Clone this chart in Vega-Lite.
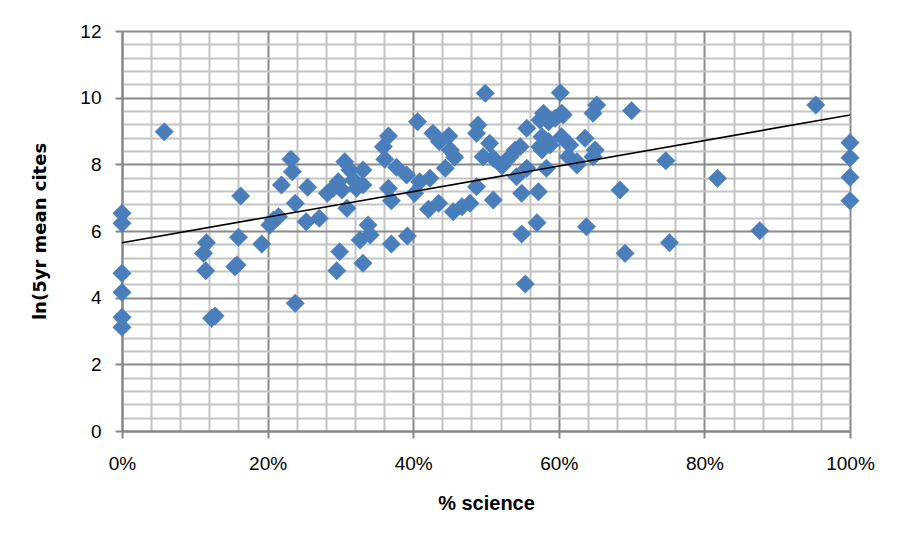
{
  "$schema": "https://vega.github.io/schema/vega-lite/v6.json",
  "width": 728,
  "height": 400,
  "autosize": {"type": "none"},
  "padding": {"left": 122, "top": 31, "right": 54, "bottom": 117},
  "background": "white",
  "config": {
    "view": {"stroke": null},
    "axis": {
      "labelFont": "Liberation Sans Narrow, Liberation Sans, sans-serif",
      "labelFontSize": 19,
      "labelColor": "#000000",
      "titleColor": "#000000",
      "domainColor": "#868686",
      "domainWidth": 2,
      "tickWidth": 2,
      "tickSize": 7,
      "gridWidth": 2,
      "tickCount": 200
    }
  },
  "layer": [
    {
      "data": {
        "values": [
          {"sci": 0.058, "cites": 8.98}, {"sci": 0, "cites": 6.53}, {"sci": 0, "cites": 6.23}, {"sci": 0, "cites": 4.73},
          {"sci": 0, "cites": 4.16}, {"sci": 0, "cites": 3.41}, {"sci": 0, "cites": 3.11}, {"sci": 0.116, "cites": 5.65},
          {"sci": 0.112, "cites": 5.33}, {"sci": 0.115, "cites": 4.81}, {"sci": 0.123, "cites": 3.38}, {"sci": 0.128, "cites": 3.45},
          {"sci": 0.163, "cites": 7.05}, {"sci": 0.16, "cites": 5.81}, {"sci": 0.155, "cites": 4.93}, {"sci": 0.158, "cites": 4.98},
          {"sci": 0.192, "cites": 5.61}, {"sci": 0.203, "cites": 6.18}, {"sci": 0.208, "cites": 6.33}, {"sci": 0.215, "cites": 6.43},
          {"sci": 0.219, "cites": 7.38}, {"sci": 0.232, "cites": 8.15}, {"sci": 0.234, "cites": 7.78}, {"sci": 0.238, "cites": 6.83},
          {"sci": 0.238, "cites": 3.83}, {"sci": 0.255, "cites": 7.31}, {"sci": 0.253, "cites": 6.28}, {"sci": 0.271, "cites": 6.38},
          {"sci": 0.282, "cites": 7.13}, {"sci": 0.29, "cites": 7.28}, {"sci": 0.297, "cites": 7.48}, {"sci": 0.306, "cites": 8.08},
          {"sci": 0.313, "cites": 7.83}, {"sci": 0.302, "cites": 7.23}, {"sci": 0.309, "cites": 6.68}, {"sci": 0.318, "cites": 7.53},
          {"sci": 0.322, "cites": 7.28}, {"sci": 0.331, "cites": 7.83}, {"sci": 0.331, "cites": 7.38}, {"sci": 0.299, "cites": 5.38},
          {"sci": 0.295, "cites": 4.81}, {"sci": 0.327, "cites": 5.73}, {"sci": 0.338, "cites": 6.18}, {"sci": 0.341, "cites": 5.88},
          {"sci": 0.331, "cites": 5.03}, {"sci": 0.359, "cites": 8.53}, {"sci": 0.366, "cites": 8.85}, {"sci": 0.361, "cites": 8.15},
          {"sci": 0.366, "cites": 7.28}, {"sci": 0.37, "cites": 6.91}, {"sci": 0.37, "cites": 5.61}, {"sci": 0.377, "cites": 7.91},
          {"sci": 0.391, "cites": 7.68}, {"sci": 0.392, "cites": 5.85}, {"sci": 0.402, "cites": 7.13}, {"sci": 0.406, "cites": 9.28},
          {"sci": 0.409, "cites": 7.48}, {"sci": 0.423, "cites": 7.58}, {"sci": 0.421, "cites": 6.65}, {"sci": 0.427, "cites": 8.93},
          {"sci": 0.436, "cites": 8.68}, {"sci": 0.435, "cites": 6.83}, {"sci": 0.449, "cites": 8.85}, {"sci": 0.451, "cites": 8.43},
          {"sci": 0.457, "cites": 8.21}, {"sci": 0.444, "cites": 7.88}, {"sci": 0.455, "cites": 6.58}, {"sci": 0.467, "cites": 6.73},
          {"sci": 0.478, "cites": 6.83}, {"sci": 0.487, "cites": 8.93}, {"sci": 0.487, "cites": 7.33}, {"sci": 0.499, "cites": 10.13},
          {"sci": 0.489, "cites": 9.18}, {"sci": 0.505, "cites": 8.63}, {"sci": 0.496, "cites": 8.23}, {"sci": 0.51, "cites": 8.18},
          {"sci": 0.522, "cites": 7.95}, {"sci": 0.51, "cites": 6.93}, {"sci": 0.54, "cites": 8.43}, {"sci": 0.547, "cites": 8.53},
          {"sci": 0.533, "cites": 8.23}, {"sci": 0.556, "cites": 7.88}, {"sci": 0.542, "cites": 7.63}, {"sci": 0.549, "cites": 7.13},
          {"sci": 0.572, "cites": 7.18}, {"sci": 0.549, "cites": 5.91}, {"sci": 0.57, "cites": 6.25}, {"sci": 0.554, "cites": 4.41},
          {"sci": 0.556, "cites": 9.08}, {"sci": 0.574, "cites": 9.33}, {"sci": 0.579, "cites": 9.53}, {"sci": 0.586, "cites": 9.28},
          {"sci": 0.602, "cites": 10.15}, {"sci": 0.604, "cites": 9.53}, {"sci": 0.595, "cites": 9.38}, {"sci": 0.606, "cites": 9.48},
          {"sci": 0.577, "cites": 8.83}, {"sci": 0.586, "cites": 8.68}, {"sci": 0.577, "cites": 8.43}, {"sci": 0.588, "cites": 8.58},
          {"sci": 0.574, "cites": 8.53}, {"sci": 0.583, "cites": 7.88}, {"sci": 0.604, "cites": 8.83}, {"sci": 0.615, "cites": 8.58},
          {"sci": 0.613, "cites": 8.23}, {"sci": 0.625, "cites": 7.98}, {"sci": 0.625, "cites": 8.08}, {"sci": 0.636, "cites": 8.78},
          {"sci": 0.65, "cites": 8.43}, {"sci": 0.647, "cites": 8.23}, {"sci": 0.652, "cites": 9.78}, {"sci": 0.647, "cites": 9.53},
          {"sci": 0.7, "cites": 9.61}, {"sci": 0.684, "cites": 7.23}, {"sci": 0.638, "cites": 6.13}, {"sci": 0.691, "cites": 5.33},
          {"sci": 0.747, "cites": 8.11}, {"sci": 0.752, "cites": 5.65}, {"sci": 0.818, "cites": 7.58}, {"sci": 0.876, "cites": 6.01},
          {"sci": 0.953, "cites": 9.78}, {"sci": 1, "cites": 8.65}, {"sci": 1, "cites": 8.2}, {"sci": 1, "cites": 7.61},
          {"sci": 1, "cites": 6.91}
        ]
      },
      "mark": {"type": "point", "shape": "diamond", "filled": true, "size": 340, "color": "#4A7EBB", "opacity": 1, "stroke": "#4A7EBB", "strokeWidth": 0.5},
      "encoding": {
        "x": {
          "field": "sci", "type": "quantitative",
          "scale": {"domain": [0, 1], "nice": false, "zero": true},
          "axis": {
            "title": "% science",
            "titleFont": "Liberation Sans Narrow, Liberation Sans, sans-serif",
            "titleFontSize": 20,
            "titleFontWeight": "bold",
            "titlePadding": 20,
            "format": ".0%",
            "tickCount": 200,
            "values": [0, 0.04, 0.08, 0.12, 0.16, 0.2, 0.24, 0.28, 0.32, 0.36, 0.4, 0.44, 0.48, 0.52, 0.56, 0.6, 0.64, 0.68, 0.72, 0.76, 0.8, 0.84, 0.88, 0.92, 0.96, 1],
            "labelExpr": "round(datum.value * 100) % 20 === 0 ? datum.label : ''",
            "labelPadding": 16,
            "labelFlush": false,
            "labelOverlap": false,
            "gridColor": {"condition": {"test": "round(datum.value * 100) % 20 === 0", "value": "#8a8a8a"}, "value": "#c4c4c4"},
            "tickColor": {"condition": {"test": "round(datum.value * 100) % 20 === 0", "value": "#868686"}, "value": "transparent"}
          }
        },
        "y": {
          "field": "cites", "type": "quantitative",
          "scale": {"domain": [0, 12], "nice": false},
          "axis": {
            "title": "ln(5yr mean cites",
            "titleFont": "DejaVu Sans, sans-serif",
            "titleFontSize": 18,
            "titleFontWeight": "bold",
            "titlePadding": 30,
            "tickCount": 200,
            "values": [0, 0.4, 0.8, 1.2, 1.6, 2, 2.4, 2.8, 3.2, 3.6, 4, 4.4, 4.8, 5.2, 5.6, 6, 6.4, 6.8, 7.2, 7.6, 8, 8.4, 8.8, 9.2, 9.6, 10, 10.4, 10.8, 11.2, 11.6, 12],
            "labelExpr": "round(datum.value * 10) % 20 === 0 ? format(datum.value, 'd') : ''",
            "labelPadding": 14,
            "labelFlush": false,
            "labelOverlap": false,
            "gridColor": {"condition": {"test": "round(datum.value * 10) % 20 === 0", "value": "#8a8a8a"}, "value": "#c4c4c4"},
            "tickColor": {"condition": {"test": "round(datum.value * 10) % 20 === 0", "value": "#868686"}, "value": "transparent"}
          }
        }
      }
    },
    {
      "data": {"values": [{"sci": 0, "cites": 5.65}, {"sci": 1, "cites": 9.48}]},
      "mark": {"type": "line", "color": "#000000", "strokeWidth": 1.6},
      "encoding": {
        "x": {"field": "sci", "type": "quantitative"},
        "y": {"field": "cites", "type": "quantitative"}
      }
    }
  ]
}
